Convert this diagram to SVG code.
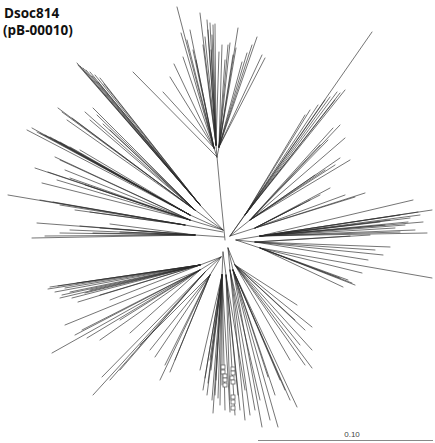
<svg xmlns="http://www.w3.org/2000/svg" width="435" height="443" viewBox="0 0 435 443">
<style>
.t{fill:none;stroke:#2a2a2a;stroke-width:0.65;stroke-linejoin:round;stroke-linecap:round}
.sq{fill:#fff;stroke:#666;stroke-width:0.8}
.title{font-family:"Open Sans","Lato",sans-serif;font-weight:700;font-size:13.5px;fill:#111}
</style>
<rect width="435" height="443" fill="#fff"/>
<text class="title" x="4" y="18">Dsoc814</text>
<text class="title" x="3" y="35">(pB-00010)</text>
<g id="tree">
<g id="clade-top">
<path class="t" d="M225 240L221 200L217 157L133 72
M217 157L214 148L177 7M214 148L181 33M214 148L183 57M214 148L174 64M214 148L170 77M214 148L163 92M214 148L187 40M214 148L193 50M214 148L196 60M214 148L190 30
M217 157L216 145L200 13M216 145L205 37M216 145L208 30M216 145L210 23M216 145L213 25M216 145L215 24M216 145L211 50M216 145L219 52M216 145L203 45M216 145L207 20M216 145L212 35
M217 157L219 147L222 45M219 147L228 45M219 147L230 43M219 147L238 28M219 147L236 48M219 147L242 62M219 147L247 53M219 147L252 45M219 147L257 37M219 147L262 55M219 147L265 58M219 147L225 60M219 147L233 55"/>
</g>
<g id="clade-topleft">
<path class="t" d="M223 230L200 205L77 63M200 205L80 66M200 205L83 68M200 205L86 70M200 205L90 72M200 205L95 75M200 205L100 78M200 205L98 82M200 205L104 84M200 205L78 65M200 205L92 76
M223 230L195 210L58 108M195 210L62 112M195 210L67 120M195 210L72 118M195 210L93 108M195 210L90 120M195 210L97 115M195 210L103 124M195 210L110 130M195 210L85 112
M223 230L190 215L27 130M190 215L32 128M190 215L37 132M190 215L45 135M190 215L50 137M190 215L55 140M190 215L60 142M190 215L70 147M190 215L80 150M190 215L40 133
M223 230L190 220L55 157M190 220L60 160M190 220L35 168M190 220L42 183M190 220L57 180M190 220L70 178M190 220L85 185M190 220L48 172M190 220L65 170
M223 232L185 225L8 195M185 225L53 202M185 225L60 205M185 225L75 210M185 225L90 212M185 225L40 200"/>
</g>
<g id="clade-left">
<path class="t" d="M224 237L195 235L37 223M195 235L32 238M195 235L45 236M195 235L60 233M195 235L93 233M195 235L100 228M195 235L120 232M195 235L80 226M195 235L110 224M195 235L70 230"/>
</g>
<g id="clade-topright">
<path class="t" d="M230 236L372 32
M230 236L245 215L340 93M245 215L337 92M245 215L330 97M245 215L325 100M245 215L318 105M245 215L310 110M245 215L305 115M245 215L345 90M245 215L335 100
M230 236L250 220L340 125M250 220L333 128M250 220L345 138M250 220L328 140M250 220L320 145M250 220L350 160M250 220L340 158M250 220L335 165M250 220L325 170M250 220L315 175
M230 236L255 228L365 193M255 228L330 188M255 228L320 195M255 228L310 200M255 228L300 205M255 228L345 195M255 228L355 197"/>
</g>
<g id="clade-right">
<path class="t" d="M236 240L260 236L413 200M260 236L432 210M260 236L423 222M260 236L410 218M260 236L400 215M260 236L390 220M260 236L380 222M260 236L427 233M260 236L415 230M260 236L400 232M260 236L405 225M260 236L395 228M260 236L420 215M260 236L418 212M260 236L408 222M260 236L385 225
M236 240L255 242L370 235M255 242L350 236M255 242L390 247M255 242L383 255M255 242L368 260M255 242L375 250
M236 240L260 248L432 278M260 248L362 273M260 248L352 283M260 248L343 287M260 248L348 280M260 248L340 278M260 248L355 285"/>
</g>
<g id="clade-bottomright">
<path class="t" d="M228 248L235 265L297 305M235 265L312 327M235 265L305 330M235 265L312 350M235 265L300 345M235 265L312 368M235 265L305 365M235 265L290 360M235 265L295 320
M228 248L233 270L297 407M233 270L290 400M233 270L278 427M233 270L270 420M233 270L262 427M233 270L268 377M233 270L280 380M233 270L285 390M233 270L275 395
M228 248L230 270L260 400M230 270L255 410M230 270L250 415M230 270L245 420"/>
</g>
<g id="clade-bottom">
<path class="t" d="M223 252L222 275L213 413M222 275L208 383M222 275L205 378M222 275L215 395M222 275L220 405M222 275L225 410M222 275L230 412M222 275L222 385M222 275L200 370M222 275L210 360M222 275L203 390M222 275L212 400M222 275L218 398M222 275L207 395M222 275L216 380M222 275L211 370
M223 252L226 275L235 415M226 275L240 410M226 275L230 400M226 275L238 395M226 275L245 390"/>
</g>
<g id="clade-bottomleft">
<path class="t" d="M221 257L200 265L48 289M200 265L60 298M200 265L77 283M200 265L78 302M200 265L90 290M200 265L100 295M200 265L110 300M200 265L70 292M200 265L55 292M200 265L50 287M200 265L58 286M200 265L65 288M200 265L62 295M200 265L85 293M200 265L72 298
M221 257L200 270L65 325M200 270L52 353M200 270L82 330M200 270L87 338M200 270L100 340M200 270L130 333M200 270L120 320M200 270L75 335
M221 257L205 272L93 395M205 272L102 377M205 272L110 380M205 272L120 370
M221 257L210 275L155 357M210 275L170 372M210 275L165 365M210 275L160 380M210 275L150 350M210 275L140 345M210 275L175 360"/>
</g>
<g id="markers">
<rect class="sq" x="221" y="365" width="4" height="4"/>
<rect class="sq" x="221" y="370" width="4" height="4"/>
<rect class="sq" x="223" y="374" width="4" height="4"/>
<rect class="sq" x="223" y="378" width="4" height="4"/>
<rect class="sq" x="223" y="383" width="4" height="4"/>
<rect class="sq" x="231" y="367" width="4" height="4"/>
<rect class="sq" x="231" y="371" width="4" height="4"/>
<rect class="sq" x="230" y="376" width="4" height="4"/>
<rect class="sq" x="231" y="380" width="4" height="4"/>
<rect class="sq" x="231" y="395" width="4" height="4"/>
<rect class="sq" x="231" y="400" width="4" height="4"/>
<rect class="sq" x="231" y="406" width="4" height="4"/>
</g>
</g>
<g id="scale">
<line x1="258" y1="440.5" x2="433" y2="440.5" stroke="#888" stroke-width="1"/>
<text x="352" y="437" text-anchor="middle" font-family="Liberation Sans, sans-serif" font-size="8" fill="#444">0.10</text>
</g>
</svg>
